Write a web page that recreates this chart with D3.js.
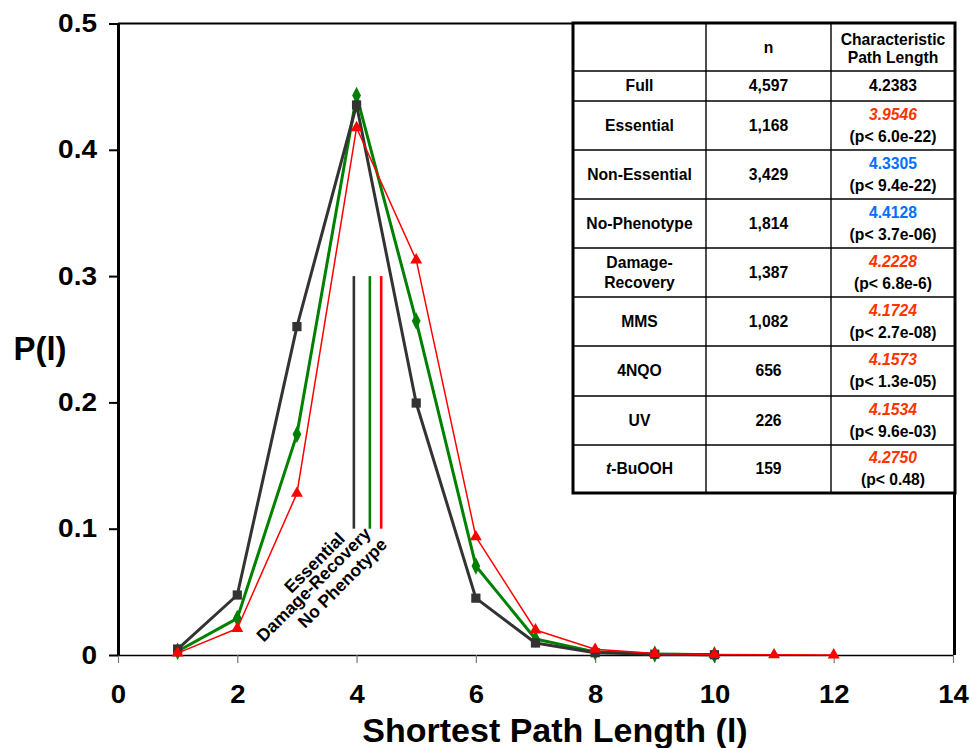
<!DOCTYPE html>
<html>
<head>
<meta charset="utf-8">
<script src="https://cdn.jsdelivr.net/npm/d3@7"></script>
<style>
  html, body { margin: 0; padding: 0; background: #fff; }
  svg { display: block; font-family: "Liberation Sans", Arial, sans-serif; font-weight: bold; }
</style>
</head>
<body>
<svg id="chart" width="972" height="748"></svg>
<script>
// Shortest path length distribution
const pathLengths = [1, 2, 3, 4, 5, 6, 7, 8, 9, 10, 11, 12];
const essentialP = [0.0047, 0.0475, 0.260, 0.4355, 0.1995, 0.045, 0.0095, 0.0018, 0.0006, 0.0002];
const damageRecoveryP = [0.003, 0.029, 0.1747, 0.443, 0.2645, 0.0705, 0.0127, 0.0025, 0.0007, 0.0002];
const noPhenotypeP = [0.0015, 0.021, 0.128, 0.4175, 0.3128, 0.0935, 0.0198, 0.0045, 0.0012, 0.0003, 0.0001, 0.00005];

const xTickValues = [0, 2, 4, 6, 8, 10, 12, 14];
const yTickValues = [0, 0.1, 0.2, 0.3, 0.4, 0.5];
const yTickLabels = ["0", "0.1", "0.2", "0.3", "0.4", "0.5"];

// Summary table
const tableGroups = ["Full", "Essential", "Non-Essential", "No-Phenotype", "Damage-\nRecovery", "MMS", "4NQO", "UV", "t-BuOOH"];
const tableN = ["4,597", "1,168", "3,429", "1,814", "1,387", "1,082", "656", "226", "159"];
const tableCPL = ["4.2383", "3.9546", "4.3305", "4.4128", "4.2228", "4.1724", "4.1573", "4.1534", "4.2750"];
const tablePval = ["", "(p< 6.0e-22)", "(p< 9.4e-22)", "(p< 3.7e-06)", "(p< 6.8e-6)", "(p< 2.7e-08)", "(p< 1.3e-05)", "(p< 9.6e-03)", "(p< 0.48)"];
const tableTone = ["plain", "red", "blue", "blue", "red", "red", "red", "red", "red"];

// Characteristic path length markers (taken from the table values)
const markerGroups = ["Essential", "Damage-Recovery", "No Phenotype"];
const markerValues = [+tableCPL[1], +tableCPL[4], +tableCPL[3]];

const svg = d3.select("#chart");
const M = { left: 118, right: 953, top: 23.5, bottom: 655 };

const x = d3.scaleLinear().domain([0, 14]).range([M.left, M.right]);
const y = d3.scaleLinear().domain([0, 0.5]).range([M.bottom, M.top]);

// widen a text element horizontally about its own anchor point
function stretch(sel, k) {
  sel.each(function () {
    const t = d3.select(this);
    const ax = +t.attr("x") || 0, ay = +t.attr("y") || 0;
    t.attr("transform", `translate(${ax},${ay}) scale(${k},1) translate(${-ax},${-ay})`);
  });
}

// X axis: thin baseline with small gray ticks
const xAxis = svg.append("g").attr("transform", `translate(0,${M.bottom})`)
  .call(d3.axisBottom(x).tickValues(xTickValues).tickSize(8).tickPadding(22).tickSizeOuter(0));
xAxis.select(".domain").attr("stroke", "#000").attr("stroke-width", 1.6);
xAxis.selectAll(".tick line").attr("stroke", "#777").attr("stroke-width", 1.2);
xAxis.selectAll(".tick text")
  .attr("fill", "#000").attr("font-size", 25).attr("font-weight", "bold")
  .attr("font-family", "Liberation Sans, Arial, sans-serif")
  .attr("dy", "0.71em")
  .call(stretch, 1.1);

// Y axis
const yAxis = svg.append("g").attr("transform", `translate(${M.left},0)`)
  .call(d3.axisLeft(y).tickValues(yTickValues).tickFormat((d, i) => yTickLabels[i]).tickSize(9).tickPadding(12).tickSizeOuter(0));
yAxis.select(".domain").attr("stroke", "#000").attr("stroke-width", 3);
yAxis.selectAll(".tick line").attr("stroke", "#000").attr("stroke-width", 2);
yAxis.selectAll(".tick text")
  .attr("fill", "#000").attr("font-size", 25).attr("font-weight", "bold")
  .attr("font-family", "Liberation Sans, Arial, sans-serif")
  .call(stretch, 1.12);

// Frame top and right
svg.append("line").attr("x1", M.left).attr("x2", M.right + 1.5).attr("y1", M.top).attr("y2", M.top)
  .attr("stroke", "#000").attr("stroke-width", 2.2);
svg.append("line").attr("x1", M.right + 1.5).attr("x2", M.right + 1.5).attr("y1", M.top).attr("y2", M.bottom)
  .attr("stroke", "#000").attr("stroke-width", 3);

// Axis titles
svg.append("text").attr("x", 555).attr("y", 742).attr("text-anchor", "middle")
  .attr("font-size", 34).text("Shortest Path Length (l)");
svg.append("text").attr("x", 40).attr("y", 360).attr("text-anchor", "middle")
  .attr("font-size", 33).text("P(l)");

// Series
const series = [
  { name: "Damage-Recovery", values: damageRecoveryP, color: "#008000", width: 3, shape: d3.symbolDiamond, size: 66 },
  { name: "Essential", values: essentialP, color: "#333333", width: 3, shape: d3.symbolSquare, size: 85 },
  { name: "No Phenotype", values: noPhenotypeP, color: "#ff0000", width: 1.5, shape: d3.symbolTriangle, size: 62 }
];

const line = d3.line().x(d => x(d.l)).y(d => y(d.p));

series.forEach(s => {
  const pts = s.values.map((p, i) => ({ l: pathLengths[i], p }));
  svg.append("path").datum(pts)
    .attr("d", line).attr("fill", "none")
    .attr("stroke", s.color).attr("stroke-width", s.width).attr("stroke-linejoin", "round");
  svg.append("g").selectAll("path").data(pts).join("path")
    .attr("d", d3.symbol().type(s.shape).size(s.size))
    .attr("transform", d => `translate(${x(d.l)},${y(d.p)})${s.shape === d3.symbolDiamond ? " scale(1,1.15)" : ""}`)
    .attr("fill", s.color);
});

// Characteristic path length markers
const markerColors = ["#333333", "#008000", "#ff0000"];
markerValues.forEach((v, i) => {
  svg.append("line")
    .attr("x1", x(v)).attr("x2", x(v))
    .attr("y1", y(0.3)).attr("y2", y(0.1))
    .attr("stroke", markerColors[i]).attr("stroke-width", 2.6);
});
const labelOffsets = [[-8, 11], [2, 6], [7, 17]];
markerGroups.forEach((g, i) => {
  const ax = x(markerValues[i]) + labelOffsets[i][0];
  const ay = y(0.1) + labelOffsets[i][1];
  svg.append("text")
    .attr("transform", `translate(${ax},${ay}) rotate(-45)`)
    .attr("text-anchor", "end").attr("font-size", 17.5)
    .text(g);
});

// Table
const T = { cols: [573, 706, 831, 955], rows: [23, 71, 101, 150, 199, 248, 297, 346, 396, 445, 493] };
const tbl = svg.append("g").attr("font-size", 15.7);
tbl.append("rect").attr("x", T.cols[0]).attr("y", T.rows[0])
  .attr("width", T.cols[3] - T.cols[0]).attr("height", T.rows[10] - T.rows[0])
  .attr("fill", "#fff").attr("stroke", "none");
T.rows.slice(1, -1).forEach(r => {
  tbl.append("line").attr("x1", T.cols[0]).attr("x2", T.cols[3]).attr("y1", r).attr("y2", r)
    .attr("stroke", "#000").attr("stroke-width", 1.4);
});
T.cols.slice(1, -1).forEach(c => {
  tbl.append("line").attr("x1", c).attr("x2", c).attr("y1", T.rows[0]).attr("y2", T.rows[10])
    .attr("stroke", "#000").attr("stroke-width", 1.4);
});
tbl.append("rect").attr("x", T.cols[0]).attr("y", T.rows[0])
  .attr("width", T.cols[3] - T.cols[0]).attr("height", T.rows[10] - T.rows[0])
  .attr("fill", "none").attr("stroke", "#000").attr("stroke-width", 3);

const cx = i => (T.cols[i] + T.cols[i + 1]) / 2;
// header
tbl.append("text").attr("x", cx(1)).attr("y", (T.rows[0] + T.rows[1]) / 2 + 1).attr("dy", "0.35em")
  .attr("text-anchor", "middle").text("n");
tbl.append("text").attr("x", cx(2)).attr("y", 40).attr("dy", "0.35em").attr("text-anchor", "middle").text("Characteristic");
tbl.append("text").attr("x", cx(2)).attr("y", 58).attr("dy", "0.35em").attr("text-anchor", "middle").text("Path Length");

const toneColor = { plain: "#000", red: "#ff3300", blue: "#0070ff" };
tableGroups.forEach((g, i) => {
  const top = T.rows[i + 1], bot = T.rows[i + 2], mid = (top + bot) / 2;
  const gLines = g.split("\n");
  const gt = tbl.append("text").attr("text-anchor", "middle");
  if (gLines.length === 1) {
    if (g.startsWith("t-")) {
      const t = gt.attr("x", cx(0)).attr("y", mid).attr("dy", "0.35em");
      t.append("tspan").attr("font-style", "italic").text("t");
      t.append("tspan").text(g.slice(1));
    } else {
      gt.attr("x", cx(0)).attr("y", mid).attr("dy", "0.35em").text(g);
    }
  } else {
    gLines.forEach((ln, k) => {
      gt.append("tspan").attr("x", cx(0)).attr("y", mid + (k === 0 ? -10 : 10)).attr("dy", "0.35em").text(ln);
    });
  }
  tbl.append("text").attr("x", cx(1)).attr("y", mid).attr("dy", "0.35em").attr("text-anchor", "middle").text(tableN[i]);
  const hasP = tablePval[i] !== "";
  tbl.append("text").attr("x", cx(2)).attr("y", hasP ? mid - 11 : mid).attr("dy", "0.35em")
    .attr("text-anchor", "middle")
    .attr("fill", toneColor[tableTone[i]])
    .attr("font-style", tableTone[i] === "red" ? "italic" : "normal")
    .text(tableCPL[i]);
  if (hasP) {
    tbl.append("text").attr("x", cx(2)).attr("y", mid + 11).attr("dy", "0.35em")
      .attr("text-anchor", "middle").text(tablePval[i]);
  }
});
</script>
</body>
</html>
